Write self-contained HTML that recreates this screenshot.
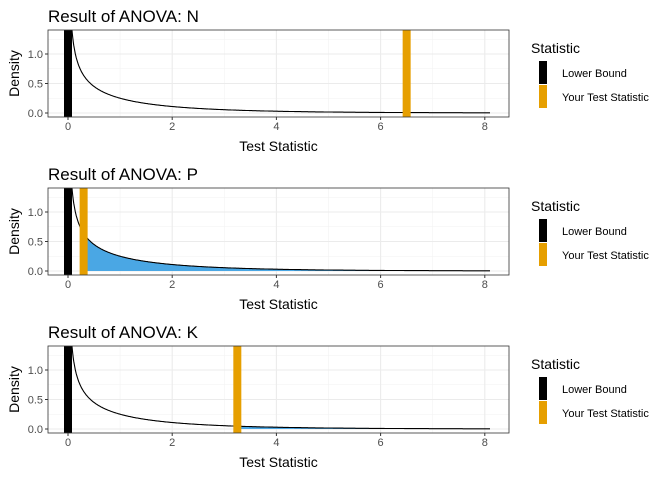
<!DOCTYPE html>
<html><head><meta charset="utf-8"><style>body{margin:0;background:#fff}svg{display:block}text{font-family:"Liberation Sans",sans-serif}</style></head>
<body>
<svg id="s" width="672" height="480" xmlns="http://www.w3.org/2000/svg"></svg>
<script>
const s=document.getElementById('s');let h='';
const X0=68,PX=52.1,L=48,R=509;
const panels=[{t:'N',o:6.5,d:0},{t:'P',o:0.3,d:158},{t:'K',o:3.25,d:316}];
function f(x){return Math.exp(-x/2)/Math.sqrt(2*Math.PI*x)+0.012*Math.exp(-x/3);}
for(const p of panels){
 const top=30+p.d,bot=117+p.d,Y0=113+p.d,PY=59;
 const xs=v=>X0+v*PX, ys=v=>Y0-v*PY;
 h+=`<text x="48" y="${22+p.d}" font-size="17" fill="#000">Result of ANOVA: ${p.t}</text>`;
 h+=`<rect x="${L}" y="${top}" width="${R-L}" height="${bot-top}" fill="#fff"/>`;
 h+=`<clipPath id="c${p.d}"><rect x="${L}" y="${top}" width="${R-L}" height="${bot-top}"/></clipPath><g clip-path="url(#c${p.d})">`;
 for(let v=1;v<8;v+=2)h+=`<line x1="${xs(v)}" x2="${xs(v)}" y1="${top}" y2="${bot}" stroke="#f2f2f2" stroke-width="0.6"/>`;
 for(let v of[0.25,0.75,1.25])h+=`<line x1="${L}" x2="${R}" y1="${ys(v)}" y2="${ys(v)}" stroke="#f2f2f2" stroke-width="0.6"/>`;
 for(let v=0;v<=8;v+=2)h+=`<line x1="${xs(v)}" x2="${xs(v)}" y1="${top}" y2="${bot}" stroke="#ebebeb" stroke-width="1.1"/>`;
 for(let v of[0,0.5,1])h+=`<line x1="${L}" x2="${R}" y1="${ys(v)}" y2="${ys(v)}" stroke="#ebebeb" stroke-width="1.1"/>`;
 let pts=[];for(let x=p.o;x<=8.1;x+=0.02)pts.push(`${xs(x).toFixed(1)},${ys(f(x)).toFixed(1)}`);
 h+=`<polygon points="${xs(p.o)},${Y0} ${pts.join(' ')} ${xs(8.1)},${Y0}" fill="#4aa7e4"/>`;
 let cp=[];for(let x=0.03;x<=8.1;x+=0.01)cp.push(`${xs(x).toFixed(1)},${ys(f(x)).toFixed(1)}`);
 h+=`<polyline points="${cp.join(' ')}" fill="none" stroke="#000" stroke-width="1.1"/>`;
 h+=`<rect x="${xs(0)-4}" y="${top}" width="8" height="${bot-top}" fill="#000"/>`;
 h+=`<rect x="${xs(p.o)-4}" y="${top}" width="8" height="${bot-top}" fill="#e69f00"/>`;
 h+=`</g><rect x="${L}" y="${top}" width="${R-L}" height="${bot-top}" fill="none" stroke="#333" stroke-width="0.8"/>`;
 for(let v=0;v<=8;v+=2)h+=`<line x1="${xs(v)}" x2="${xs(v)}" y1="${bot}" y2="${bot+3}" stroke="#333"/><text x="${xs(v)}" y="${bot+13}" font-size="11" fill="#4d4d4d" text-anchor="middle">${v}</text>`;
 for(let v of[0,0.5,1])h+=`<line x1="${L-3}" x2="${L}" y1="${ys(v)}" y2="${ys(v)}" stroke="#333"/><text x="${L-5}" y="${ys(v)+4}" font-size="11" fill="#4d4d4d" text-anchor="end">${v.toFixed(1)}</text>`;
 h+=`<text x="${(L+R)/2}" y="${bot+34}" font-size="14" text-anchor="middle">Test Statistic</text>`;
 h+=`<text transform="translate(19,${(top+bot)/2}) rotate(-90)" font-size="14" text-anchor="middle">Density</text>`;
 h+=`<text x="531" y="${53+p.d}" font-size="14">Statistic</text>`;
 h+=`<rect x="539" y="${61+p.d}" width="8" height="23" fill="#000"/><rect x="539" y="${85+p.d}" width="8" height="23" fill="#e69f00"/>`;
 h+=`<text x="562" y="${77+p.d}" font-size="11">Lower Bound</text><text x="562" y="${101+p.d}" font-size="11">Your Test Statistic</text>`;
}
s.innerHTML=h;
</script>
</body></html>
